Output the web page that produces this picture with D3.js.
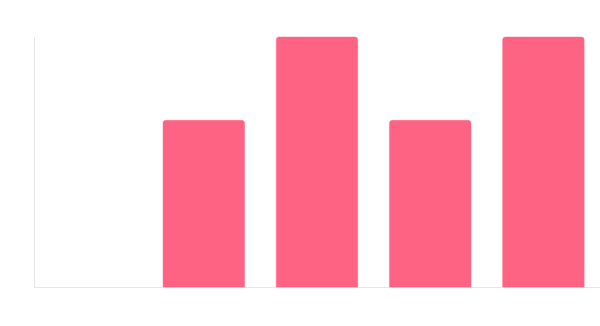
<!DOCTYPE html>
<html>
<head>
<meta charset="utf-8">
<script src="https://cdn.jsdelivr.net/npm/d3@7"></script>
<style>
  body { margin: 0; background: #fff; }
  svg { display: block; }
</style>
</head>
<body>
<div id="chart"></div>
<script>
// chart data
var categories = ["A", "B", "C", "D", "E"];
var values = [0, 2, 3, 2, 3];
var yMax = 3;

var width = 600, height = 326;
var margin = {top: 37, right: 0, bottom: 39, left: 34};

var svg = d3.select("#chart").append("svg")
  .attr("width", width)
  .attr("height", height);

var xScale = d3.scaleBand()
  .domain(categories)
  .range([margin.left, width - margin.right])
  .paddingInner(0.28)
  .paddingOuter(0.14);

var yScale = d3.scaleLinear()
  .domain([0, yMax])
  .range([height - margin.bottom, margin.top]);

// axis lines only, no ticks or labels
svg.append("line")
  .attr("x1", margin.left + 0.5).attr("x2", margin.left + 0.5)
  .attr("y1", yScale(yMax)).attr("y2", yScale(0))
  .attr("stroke", "#e6e6e6").attr("stroke-width", 1);

svg.append("line")
  .attr("x1", margin.left).attr("x2", width)
  .attr("y1", yScale(0) + 0.5).attr("y2", yScale(0) + 0.5)
  .attr("stroke", "#e6e6e6").attr("stroke-width", 1);

// bar path with rounded top corners
function barPath(x, y, w, h, r) {
  r = Math.min(r, h, w / 2);
  return "M" + x + "," + (y + h) +
    "V" + (y + r) +
    "Q" + x + "," + y + " " + (x + r) + "," + y +
    "H" + (x + w - r) +
    "Q" + (x + w) + "," + y + " " + (x + w) + "," + (y + r) +
    "V" + (y + h) + "Z";
}

var barData = categories.map(function(c, i) { return {cat: c, val: values[i]}; })
  .filter(function(d) { return d.val > 0; });

svg.selectAll(".bar")
  .data(barData)
  .enter().append("path")
  .attr("class", "bar")
  .attr("d", function(d) {
    var x = xScale(d.cat), y = yScale(d.val);
    return barPath(x, y, xScale.bandwidth(), yScale(0) - y, 3);
  })
  .attr("fill", "#ff6384")
  .attr("stroke", "rgba(255,99,132,0.45)")
  .attr("stroke-width", 1);
</script>
</body>
</html>
